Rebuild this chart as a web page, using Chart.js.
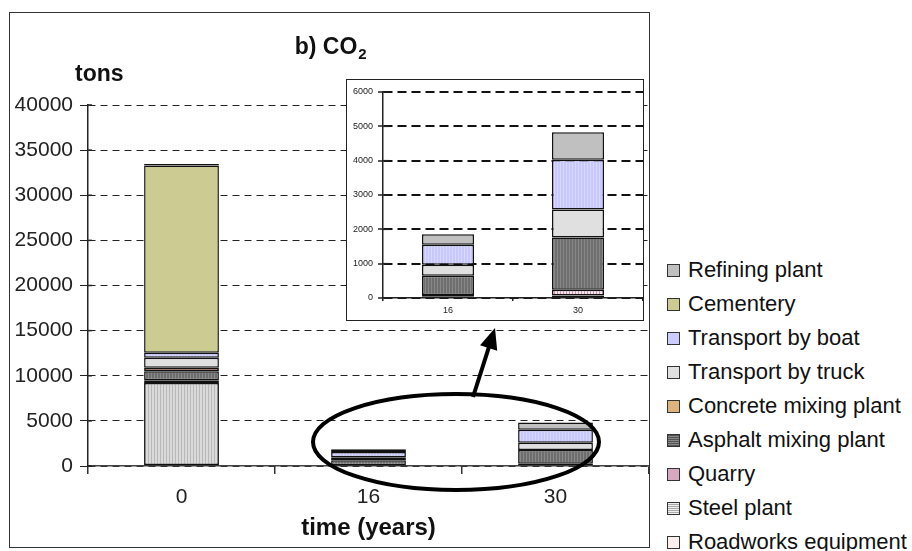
<!DOCTYPE html>
<html>
<head>
<meta charset="utf-8">
<script src="https://cdn.jsdelivr.net/npm/chart.js@4"></script>
<style>
  body { margin: 0; background: #fff; width: 912px; height: 551px; overflow: hidden; position: relative; font-family: 'Liberation Sans', Arial, sans-serif; }
  #frame { position: absolute; left: 9px; top: 12px; width: 639px; height: 534px; border: 1.5px solid #333; }
  #main { position: absolute; left: 10px; top: 13px; }
  #insetBox { position: absolute; left: 346px; top: 79px; width: 296px; height: 240px; border: 1.5px solid #222; background: #fff; }
  #legend { position: absolute; left: 667px; top: 253px; }
  .item { height: 34px; display: flex; align-items: center; font-size: 22px; color: #111; white-space: nowrap; }
  .swatch { width: 11px; height: 11px; border: 1.5px solid #333; margin-right: 8px; }
</style>
</head>
<body>
<div id="frame"></div>
<canvas id="main" width="639" height="535"></canvas>
<div id="insetBox"><canvas id="inset" width="296" height="240"></canvas></div>
<div id="legend"></div>
<script>
// data (tons of CO2), stacked bottom -> top
const years = ['0', '16', '30'];
const roadworks = [100, 40, 70];
const steel = [9100, null, null];
const quarry = [300, 50, 170];
const asphalt = [1000, 560, 1525];
const concrete = [400, null, null];
const truck = [1100, 320, 810];
const boat = [550, 580, 1455];
const cementery = [20750, null, null];
const refining = [150, 310, 795];

const mainTicks = { max: 40000, step: 5000 };
const insetTicks = { max: 6000, step: 1000 };

// vertical stripe fill like the excel patterns
function stripes(bg, fg) {
    const c = document.createElement('canvas');
    c.width = 3; c.height = 1;
    const g = c.getContext('2d');
    g.fillStyle = bg; g.fillRect(0, 0, 3, 1);
    g.fillStyle = fg; g.fillRect(0, 0, 1, 1);
    return g.createPattern(c, 'repeat');
}

const series = [
    { label: 'Roadworks equipment', data: roadworks, color: '#fff0f0', fill: '#fff0f0' },
    { label: 'Steel plant', data: steel, color: '#d4d4d4', fill: stripes('#dadada', '#b8b8b8'),
      css: 'repeating-linear-gradient(#eee 0 1px, #aaa 1px 2px)' },
    { label: 'Quarry', data: quarry, color: '#d8a8c0', fill: stripes('#f4e4ec', '#c890aa') },
    { label: 'Asphalt mixing plant', data: asphalt, color: '#707070', fill: stripes('#6e6e6e', '#888888'),
      css: 'repeating-linear-gradient(#555 0 1px, #888 1px 2px)' },
    { label: 'Concrete mixing plant', data: concrete, color: '#deb47e', fill: '#b8705a' },
    { label: 'Transport by truck', data: truck, color: '#e0e0e0', fill: '#e0e0e0' },
    { label: 'Transport by boat', data: boat, color: '#ccccff', fill: stripes('#c8c8ff', '#d8d8ff') },
    { label: 'Cementery', data: cementery, color: '#cccc92', fill: '#cccc92' },
    { label: 'Refining plant', data: refining, color: '#c0c0c0', fill: '#c0c0c0' }
];

function datasets(from) {
    return series.map(s => ({
        label: s.label,
        data: s.data.slice(from),
        backgroundColor: s.fill,
        borderColor: '#111',
        borderWidth: 1.5,
        borderSkipped: false,
        barPercentage: 0.4,
        categoryPercentage: 1
    }));
}

const plain = v => String(v);

// short tick marks on the inner side of the y axis
function innerTicks(len, width) {
    return {
        id: 'innerTicks',
        afterDraw(chart) {
            const y = chart.scales.y, ctx = chart.ctx;
            ctx.save();
            ctx.strokeStyle = '#222';
            ctx.lineWidth = width;
            y.ticks.forEach(t => {
                const py = y.getPixelForValue(t.value);
                ctx.beginPath();
                ctx.moveTo(y.right, py);
                ctx.lineTo(y.right + len, py);
                ctx.stroke();
            });
            ctx.restore();
        }
    };
}

const decor = {
    id: 'decor',
    afterDraw(chart) {
        const ctx = chart.ctx;
        ctx.save();
        ctx.fillStyle = '#111';
        ctx.textBaseline = 'middle';
        // title b) CO2
        ctx.font = 'bold 23px "Liberation Sans", Arial';
        const t = 'b) CO';
        const w = ctx.measureText(t).width;
        const x0 = 321 - (w + 10) / 2;
        ctx.fillText(t, x0, 35);
        ctx.font = 'bold 15px "Liberation Sans", Arial';
        ctx.fillText('2', x0 + w + 1, 42);
        // unit
        ctx.font = 'bold 23px "Liberation Sans", Arial';
        ctx.fillText('tons', 65, 62);

        // ellipse round the small bars and arrow to the zoom
        ctx.strokeStyle = '#000';
        ctx.lineWidth = 4;
        ctx.beginPath();
        ctx.ellipse(446, 429, 143, 48, 0, 0, Math.PI * 2);
        ctx.stroke();
        const ax = 463, ay = 384, bx = 485, by = 315;
        const ang = Math.atan2(by - ay, bx - ax);
        ctx.beginPath();
        ctx.moveTo(ax, ay);
        ctx.lineTo(bx - 14 * Math.cos(ang), by - 14 * Math.sin(ang));
        ctx.stroke();
        ctx.fillStyle = '#000';
        ctx.beginPath();
        ctx.moveTo(bx, by);
        ctx.lineTo(bx - 21 * Math.cos(ang) + 9 * Math.sin(ang), by - 21 * Math.sin(ang) - 9 * Math.cos(ang));
        ctx.lineTo(bx - 21 * Math.cos(ang) - 9 * Math.sin(ang), by - 21 * Math.sin(ang) + 9 * Math.cos(ang));
        ctx.closePath();
        ctx.fill();
        ctx.restore();
    }
};

const font = '"Liberation Sans", Arial, sans-serif';

new Chart(document.getElementById('main'), {
    type: 'bar',
    data: { labels: years, datasets: datasets(0) },
    options: {
        responsive: false,
        animation: false,
        layout: { padding: { top: 92, right: 0, left: 0, bottom: 0 } },
        plugins: { legend: { display: false }, tooltip: { enabled: false } },
        scales: {
            x: {
                stacked: true,
                grid: { drawOnChartArea: false, tickLength: 8, color: '#333', lineWidth: 1.5, offset: true },
                border: { color: '#444', width: 1.5 },
                ticks: { font: { family: font, size: 21 }, color: '#222', padding: 11 },
                title: { display: true, text: 'time (years)', color: '#111',
                         font: { family: font, size: 24, weight: 'bold' }, padding: { top: 0, bottom: 5 } },
                afterFit: s => { s.height = 82; }
            },
            y: {
                stacked: true,
                min: 0,
                max: mainTicks.max,
                ticks: { stepSize: mainTicks.step, callback: plain, font: { family: font, size: 21 }, color: '#222', padding: 7 },
                grid: { color: '#222', lineWidth: 1, tickLength: 8, tickColor: '#222', tickBorderDash: [] },
                border: { color: '#222', width: 1.5, dash: [7, 5] },
                afterFit: s => { s.width = 78; }
            }
        }
    },
    plugins: [decor, innerTicks(4, 1.5)]
});

new Chart(document.getElementById('inset'), {
    type: 'bar',
    data: { labels: years.slice(1), datasets: datasets(1) },
    options: {
        responsive: false,
        animation: false,
        layout: { padding: { top: 12, right: 0, left: 0, bottom: 0 } },
        plugins: { legend: { display: false }, tooltip: { enabled: false } },
        scales: {
            x: {
                stacked: true,
                grid: { drawOnChartArea: false, tickLength: 3, color: '#222', lineWidth: 1.5, offset: true },
                border: { color: '#222', width: 1.5 },
                ticks: { font: { family: font, size: 9 }, color: '#222', padding: 4 },
                afterFit: s => { s.height = 22; }
            },
            y: {
                stacked: true,
                min: 0,
                max: insetTicks.max,
                ticks: { stepSize: insetTicks.step, callback: plain, font: { family: font, size: 9 }, color: '#222', padding: 5 },
                grid: { color: '#111', lineWidth: 2, tickLength: 5, tickColor: '#222', tickWidth: 1.5, tickBorderDash: [] },
                border: { color: '#222', width: 1.5, dash: [9, 5] },
                afterFit: s => { s.width = 36; }
            }
        }
    },
    plugins: [innerTicks(6, 1.5)]
});

// legend, top to bottom is the reverse of the stack
const legend = document.getElementById('legend');
series.slice().reverse().forEach(s => {
    const item = document.createElement('div');
    item.className = 'item';
    const sw = document.createElement('div');
    sw.className = 'swatch';
    sw.style.background = s.css || s.color;
    item.appendChild(sw);
    item.appendChild(document.createTextNode(s.label));
    legend.appendChild(item);
});
</script>
</body>
</html>
